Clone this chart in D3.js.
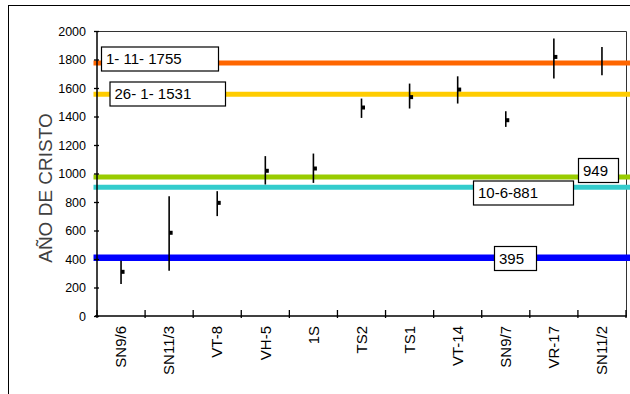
<!DOCTYPE html>
<html><head><meta charset="utf-8">
<script src="https://cdn.jsdelivr.net/npm/d3@7/dist/d3.min.js"></script>
<style>
html,body{margin:0;padding:0;background:#fff;}
svg{display:block;font-family:"Liberation Sans",Arial,sans-serif;}
</style></head>
<body>
<svg id="c" width="630" height="394"></svg>
<script>
// ---- data ----
const categories = ["SN9/6","SN11/3","VT-8","VH-5","1S","TS2","TS1","VT-14","SN9/7","VR-17","SN11/2"];
const centerValues = [310, 584, 794, 1019, 1035, 1463, 1536, 1589, 1374, 1818, null];
const lowValues    = [224, 318, 701, 923, 934, 1390, 1456, 1491, 1327, 1666, 1689];
const highValues   = [388, 841, 876, 1122, 1140, 1526, 1631, 1682, 1437, 1947, 1888];

const refValues = [1776, 1556, 976, 904, 409];
const refLabels = ["1- 11- 1755", "26- 1- 1531", "949", "10-6-881", "395"];
const refColors = ["#FF6600", "#FFCC00", "#99CC00", "#33CCCC", "#0000FF"];

const yTicks = [0,200,400,600,800,1000,1200,1400,1600,1800,2000];

// ---- layout ----
const svg = d3.select("#c");
const L = 97, R = 626, T = 31, B = 316;
const x = d3.scaleBand().domain(categories).range([L, R]).padding(0);
const y = d3.scaleLinear().domain([0, 2000]).range([B, T]);

// outer frame
svg.append("rect").attr("x", 8.5).attr("y", 5.5).attr("width", 640).attr("height", 400)
  .attr("fill", "none").attr("stroke", "#000").attr("stroke-width", 1);

// plot border (top/right)
svg.append("path").attr("d", `M${L},${T+0.5}H${R+0.5}V${B}`)
  .attr("fill","none").attr("stroke","#333").attr("stroke-width",1);

// reference lines
const refW = [5,5,5,5,6.5];
svg.append("g").selectAll("line").data(refValues).join("line")
  .attr("x1", L - 3.5).attr("x2", 630)
  .attr("y1", d => y(d)).attr("y2", d => y(d))
  .attr("stroke", (d,i) => refColors[i]).attr("stroke-width", (d,i) => refW[i]);

// error bars
const eb = svg.append("g");
categories.forEach((c, i) => {
  const cx = x(c) + x.bandwidth()/2;
  eb.append("line").attr("x1", cx).attr("x2", cx)
    .attr("y1", y(highValues[i])).attr("y2", y(lowValues[i]))
    .attr("stroke", "#000").attr("stroke-width", 1.6);
  if (centerValues[i] != null) {
    eb.append("rect").attr("x", cx).attr("y", y(centerValues[i]) - 2)
      .attr("width", 3.5).attr("height", 4).attr("fill", "#000");
  }
});

// y axis
const ya = svg.append("g").attr("transform", `translate(${L},0)`)
  .call(d3.axisLeft(y).tickValues(yTicks).tickSize(2).tickPadding(9).tickFormat(d3.format("d")));
ya.select(".domain").attr("stroke","#000").attr("stroke-width",1.5).attr("d", `M0,${T}V${B}`);
ya.selectAll(".tick line").attr("x1", 2).attr("x2", -3).attr("stroke-width",1.3);
ya.selectAll(".tick text").attr("font-size", 12.5).attr("fill","#000")
  .attr("font-family","Liberation Sans, Arial, sans-serif");

// x axis
svg.append("line").attr("x1", L - 2).attr("x2", R + 1).attr("y1", B).attr("y2", B)
  .attr("stroke","#000").attr("stroke-width",1.5);
const bounds = [L].concat(categories.map(c => x(c) + x.bandwidth()));
svg.append("g").selectAll("line").data(bounds).join("line")
  .attr("x1", d => d).attr("x2", d => d).attr("y1", B - 6).attr("y2", B + 2)
  .attr("stroke","#000").attr("stroke-width",1.3);
svg.append("g").selectAll("text").data(categories).join("text")
  .attr("transform", d => `translate(${x(d) + x.bandwidth()/2},326) rotate(-90)`)
  .attr("text-anchor","end").attr("dy","0.35em")
  .attr("font-size", 15).attr("fill","#000").text(d => d);

// y title
svg.append("text").attr("transform", "translate(45,188) rotate(-90)")
  .attr("text-anchor","middle").attr("dy","0.35em")
  .attr("font-size", 19).attr("fill","#404040").text("AÑO DE CRISTO");

// label boxes
const boxX = [101.5, 110, 578.5, 473.5, 494.5];
const boxW = [117, 115.5, 40, 100, 42];
const boxYc = [59, 94, 170.5, 193, 258.5];
const lb = svg.append("g");
refLabels.forEach((t, i) => {
  lb.append("rect").attr("x", boxX[i]).attr("y", boxYc[i] - 12).attr("width", boxW[i]).attr("height", 24)
    .attr("fill","#fff").attr("stroke","#000").attr("stroke-width",1.2);
  lb.append("text").attr("x", boxX[i] + 4.5).attr("y", boxYc[i]).attr("dy","0.36em")
    .attr("font-size", 15).attr("fill","#000").text(t);
});
</script>
</body></html>
